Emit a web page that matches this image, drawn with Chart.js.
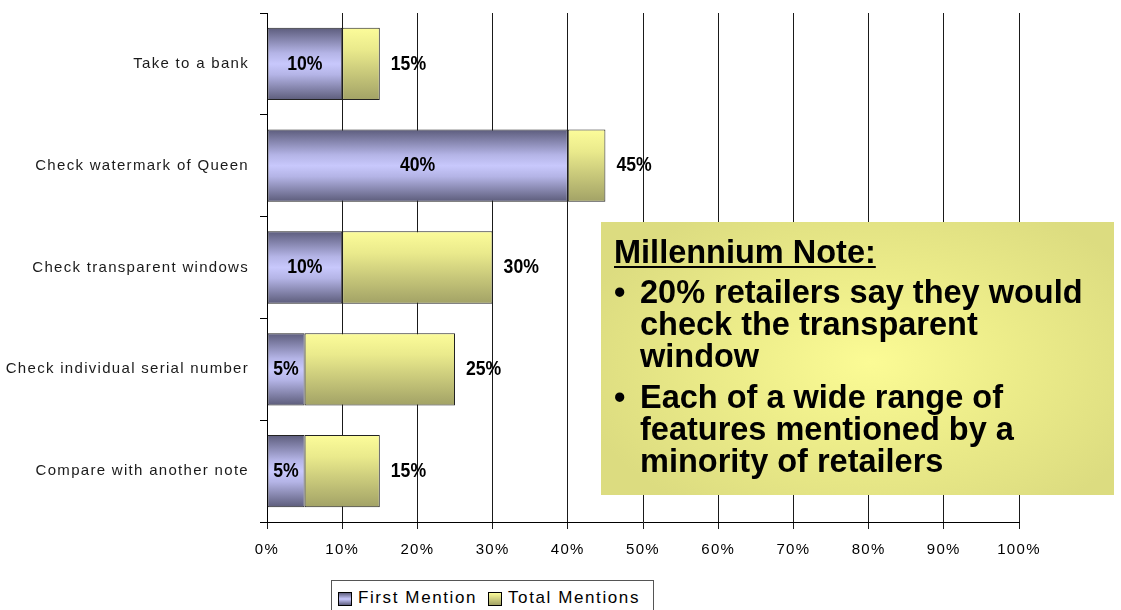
<!DOCTYPE html>
<html>
<head>
<meta charset="utf-8">
<title>Security features checked</title>
<script src="https://cdn.jsdelivr.net/npm/chart.js@4/dist/chart.umd.min.js"></script>
<style>
    body { margin: 0; background: #fff; }
    #wrap { position: relative; width: 1121px; height: 610px; overflow: hidden; }
    #chart { position: absolute; left: 0; top: 0; }
    #note {
        position: absolute; left: 601px; top: 222px; width: 513px; height: 273px;
        box-sizing: border-box; padding: 14px 0 0 13px;
        background: radial-gradient(ellipse 300px 180px at 270px 140px, #fbfb95 0%, #eded8a 45%, #dcdc80 100%);
        font-family: "Liberation Sans", Arial, sans-serif; font-weight: bold; font-size: 32.5px;
        color: #000; white-space: nowrap;
    }
    #note .title { line-height: 32px; text-decoration: underline; text-decoration-thickness: 2px; text-underline-offset: 3px; }
    #note ul { list-style: none; margin: 8px 0 0 0; padding: 0; }
    #note li { position: relative; padding-left: 26px; line-height: 32px; }
    #note li + li { margin-top: 9px; }
    #note li::before { content: "\2022"; position: absolute; left: 0; top: 0; }
    #legend {
        position: absolute; left: 331px; top: 580px; width: 323px; height: 40px;
        box-sizing: border-box; border: 1px solid #555; background: #fff;
        font-family: "Liberation Sans", Arial, sans-serif; font-size: 17px; letter-spacing: 1.6px;
        color: #000;
    }
    #legend span { position: absolute; top: 7px; }
    #legend i { position: absolute; top: 11px; width: 12px; height: 12px; border: 1px solid #000; }
</style>
</head>
<body>
<div id="wrap">
    <canvas id="chart" width="1121" height="610"></canvas>
    <div id="note">
        <div class="title">Millennium Note:</div>
        <ul>
            <li>20% retailers say they would<br>check the transparent<br>window</li>
            <li>Each of a wide range of<br>features mentioned by a<br>minority of retailers</li>
        </ul>
    </div>
    <div id="legend">
        <i style="left:6px;background:linear-gradient(#5e5e7e,#c8c8fc 50%,#5e5e7e)"></i>
        <span style="left:26px">First Mention</span>
        <i style="left:156px;background:linear-gradient(#fcfc9a,#a2a266)"></i>
        <span style="left:176px">Total Mentions</span>
    </div>
</div>
<script>
// data
const categories = [
    'Take to a bank',
    'Check watermark of Queen',
    'Check transparent windows',
    'Check individual serial number',
    'Compare with another note'
];
const firstMention = [10, 40, 10, 5, 5];
const totalMentions = [15, 45, 30, 25, 15];
const xTickStep = 10;
const xMax = 100;

// the yellow part is what total adds on top of first mentions
const extraMentions = totalMentions.map((t, i) => t - firstMention[i]);

const BAR_PCT = 0.71;
// no narrow font installed, so squeeze a bold sans sideways
const labelFont = 'bold 21px "Liberation Sans", Arial, sans-serif';
const NARROW = 0.84;

// vertical gradient fitted to each bar
function barGradient(context, stops) {
    const chart = context.chart;
    const y = chart.scales.y;
    if (!y || context.dataIndex === undefined || !y.height) return stops[1][1];
    const c = y.getPixelForValue(context.dataIndex);
    const h = (y.height / categories.length) * BAR_PCT;
    const g = chart.ctx.createLinearGradient(0, c - h / 2, 0, c + h / 2);
    stops.forEach(([o, col]) => g.addColorStop(o, col));
    return g;
}

const purpleStops = [[0, '#5c5c7c'], [0.35, '#b4b4e6'], [0.5, '#c8c8fc'], [0.65, '#b4b4e6'], [1, '#5c5c7a']];
const yellowStops = [[0, '#fcfc9a'], [0.3, '#eaea8c'], [1, '#a2a266']];

// spaced-out axis text like the original
const spacing = {
    id: 'spacing',
    beforeDraw(chart) {
        chart.ctx.letterSpacing = '1.3px';
    }
};

function narrowText(ctx, text, x, y, align) {
    ctx.save();
    ctx.translate(x, y);
    ctx.scale(NARROW, 1);
    ctx.textAlign = align;
    ctx.fillText(text, 0, 0);
    ctx.restore();
}

const valueLabels = {
    id: 'valueLabels',
    afterDatasetsDraw(chart) {
        const ctx = chart.ctx;
        ctx.save();
        ctx.letterSpacing = '0px';
        ctx.font = labelFont;
        ctx.fillStyle = '#000';
        ctx.textBaseline = 'middle';
        chart.getDatasetMeta(0).data.forEach((bar, i) => {
            narrowText(ctx, firstMention[i] + '%', (bar.x + bar.base) / 2, bar.y, 'center');
        });
        chart.getDatasetMeta(1).data.forEach((bar, i) => {
            narrowText(ctx, totalMentions[i] + '%', bar.x + 11, bar.y, 'left');
        });
        ctx.restore();
    }
};

const ctx = document.getElementById('chart').getContext('2d');
new Chart(ctx, {
    type: 'bar',
    data: {
        labels: categories,
        datasets: [{
            label: 'First Mention',
            data: firstMention,
            backgroundColor: c => barGradient(c, purpleStops),
            borderColor: '#222',
            borderWidth: 1,
            borderSkipped: false
        }, {
            label: 'Total Mentions',
            data: extraMentions,
            backgroundColor: c => barGradient(c, yellowStops),
            borderColor: '#222',
            borderWidth: 1,
            borderSkipped: false
        }]
    },
    options: {
        indexAxis: 'y',
        responsive: false,
        animation: false,
        events: [],
        barPercentage: BAR_PCT,
        categoryPercentage: 1,
        layout: { padding: { top: 13, right: 102, bottom: 38, left: 0 } },
        plugins: {
            legend: { display: false },
            tooltip: { enabled: false }
        },
        scales: {
            x: {
                stacked: true,
                min: 0,
                max: xMax,
                ticks: {
                    stepSize: xTickStep,
                    callback: v => v + '%',
                    color: '#000',
                    padding: 12,
                    maxRotation: 0,
                    font: { family: '"Liberation Sans", Arial, sans-serif', size: 15 }
                },
                grid: { color: '#1a1a1a', lineWidth: 1, tickLength: 7 },
                border: { color: '#000' },
                afterFit: s => { s.height = 50; }
            },
            y: {
                stacked: true,
                ticks: {
                    color: '#1a1a1a',
                    padding: 11,
                    font: { family: '"Liberation Sans", Arial, sans-serif', size: 15 }
                },
                grid: { drawOnChartArea: false, color: '#000', tickLength: 7 },
                border: { color: '#000' },
                afterFit: s => {
                    s.width = 267;
                    // labels sit mid-category, they need no room at the ends
                    s.paddingTop = 0;
                    s.paddingBottom = 0;
                }
            }
        }
    },
    plugins: [spacing, valueLabels]
});
</script>
</body>
</html>
